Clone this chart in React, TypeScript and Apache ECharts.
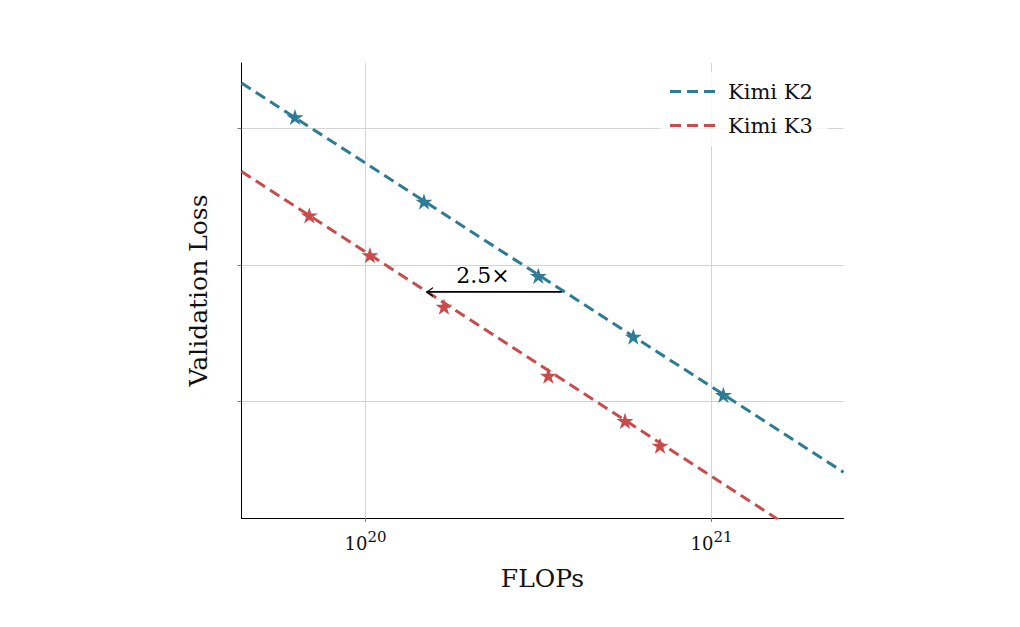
import React, { useEffect, useRef } from "react";
import * as echarts from "echarts";

// ---- data ----
const k2RunsFlops = [6.255e19, 1.476e20, 3.158e20, 5.943e20, 1.082e21];
const k2RunsLoss = [2.2086, 2.1465, 2.0919, 2.0473, 2.0044];
const k3RunsFlops = [6.88e19, 1.03e20, 1.686e20, 3.376e20, 5.623e20, 7.099e20];
const k3RunsLoss = [2.1363, 2.1071, 2.0693, 2.0186, 1.9853, 1.9671];

const k2FitFlops = [4.382e19, 2.407e21];
const k2FitLoss = [2.2336, 1.94765];
const k3FitFlops = [4.382e19, 2.407e21];
const k3FitLoss = [2.1686, 1.88176];

const arrowFlops = [3.7e20, 1.5e20];
const arrowLoss = [2.0801, 2.0801];
const arrowLabel = "2.5×";
const arrowLabelFlops = 2.186e20;
const arrowLabelLoss = 2.0923;

const yTicks = [2.0, 2.1, 2.2];
const xMin = 4.382e19;
const xMax = 2.407e21;
const yMin = 1.91397;
const yMax = 2.24831;

const seriesNames = ["Kimi K2", "Kimi K3"];

const BLUE = "#2e7b96";
const RED = "#c84c4c";
const FONT = "DejaVu Serif";

const STAR =
  "path://M100 0 L122.45 69.1 L195.11 69.1 L136.33 111.8 L158.78 180.9 L100 138.2 L41.22 180.9 L63.67 111.8 L4.89 69.1 L77.55 69.1 Z";
const CHEVRON = "path://M0 5 L10 0 L10 1.6 L2.4 5 L10 8.4 L10 10 Z";
const DASH_ICON = "path://M0 0 H11 V3 H0 Z M17 0 H28 V3 H17 Z M34 0 H45 V3 H34 Z";

const zip = (a: number[], b: number[]) => a.map((v, i) => [v, b[i]]);

export default function App() {
  const ref = useRef<HTMLDivElement>(null);
  useEffect(() => {
    if (!ref.current) return;
    const chart = echarts.init(ref.current, undefined, { renderer: "svg" });
    chart.setOption({
      animation: false,
      backgroundColor: "#ffffff",
      grid: { left: 241.5, right: 176.5, top: 63, bottom: 109, containLabel: false },
      legend: {
        data: seriesNames.map((n) => ({ name: n, icon: DASH_ICON })),
        orient: "vertical",
        left: 660,
        top: 72,
        padding: [9, 15, 10, 10],
        itemWidth: 45,
        itemHeight: 3,
        itemGap: 13,
        backgroundColor: "rgba(255,255,255,0.8)",
        textStyle: { fontFamily: FONT, fontSize: 21, color: "#111", padding: [0, 0, 0, 8] },
      },
      xAxis: {
        type: "log",
        logBase: 10,
        min: xMin,
        max: xMax,
        axisLine: { show: true, lineStyle: { color: "#000", width: 1 } },
        axisTick: { show: true, length: 4, lineStyle: { color: "#777" } },
        minorTick: { show: false },
        axisLabel: {
          showMinLabel: false,
          showMaxLabel: false,
          margin: 11,
          formatter: (v: number) => "{b|10}{s|" + Math.round(Math.log10(v)) + "}",
          rich: {
            b: { fontFamily: FONT, fontSize: 18, color: "#111", lineHeight: 23, verticalAlign: "bottom" },
            s: { fontFamily: FONT, fontSize: 15, color: "#111", lineHeight: 15, verticalAlign: "top" },
          },
        },
        splitLine: { show: true, showMinLine: false, showMaxLine: false, lineStyle: { color: "#d4d4d4", width: 1 } },
        name: "FLOPs",
        nameLocation: "middle",
        nameGap: 48,
        nameTextStyle: { fontFamily: FONT, fontSize: 25, color: "#111" },
      },
      yAxis: {
        type: "value",
        min: yMin,
        max: yMax,
        axisLine: { show: true, lineStyle: { color: "#000", width: 1 } },
        axisTick: { show: true, length: 4, lineStyle: { color: "#777" }, customValues: yTicks },
        axisLabel: { show: false, customValues: yTicks },
        splitLine: { show: true, showMinLine: true, showMaxLine: true, lineStyle: { color: "#d4d4d4", width: 1 } },
        name: "Validation Loss",
        nameLocation: "middle",
        nameGap: 31,
        nameTextStyle: { fontFamily: FONT, fontSize: 25, color: "#111" },
      },
      series: [
        {
          name: seriesNames[0],
          type: "line",
          data: zip(k2FitFlops, k2FitLoss),
          symbol: "none",
          clip: true,
          color: BLUE,
          lineStyle: { color: BLUE, width: 3, type: [11, 6] },
          z: 2,
        },
        {
          name: seriesNames[1],
          type: "line",
          data: zip(k3FitFlops, k3FitLoss),
          symbol: "none",
          clip: true,
          color: RED,
          lineStyle: { color: RED, width: 3, type: [11, 6] },
          z: 2,
        },
        {
          name: "K2 runs",
          type: "scatter",
          data: zip(k2RunsFlops, k2RunsLoss),
          symbol: STAR,
          symbolKeepAspect: true,
          symbolSize: 17,
          itemStyle: { color: BLUE, opacity: 1 },
          z: 3,
        },
        {
          name: "K3 runs",
          type: "scatter",
          data: zip(k3RunsFlops, k3RunsLoss),
          symbol: STAR,
          symbolKeepAspect: true,
          symbolSize: 17,
          itemStyle: { color: RED, opacity: 1 },
          z: 3,
        },
        {
          name: "arrow",
          type: "line",
          data: [
            { value: [arrowFlops[0], arrowLoss[0]], symbol: "none" },
            { value: [arrowFlops[1], arrowLoss[1]], symbol: CHEVRON, symbolSize: [7, 10], symbolOffset: [3, 0] },
          ],
          showSymbol: true,
          lineStyle: { color: "#000", width: 1.6 },
          itemStyle: { color: "#000" },
          z: 4,
        },
        {
          name: "arrowLabel",
          type: "scatter",
          data: [[arrowLabelFlops, arrowLabelLoss]],
          symbolSize: 1,
          itemStyle: { color: "rgba(0,0,0,0)", opacity: 1 },
          label: {
            show: true,
            position: "inside",
            formatter: arrowLabel,
            fontFamily: FONT,
            fontSize: 22,
            color: "#000",
          },
          z: 5,
        },
      ],
    });
    return () => chart.dispose();
  }, []);
  return <div ref={ref} style={{ width: 1020, height: 627, position: "absolute", left: 0, top: 0 }} />;
}
